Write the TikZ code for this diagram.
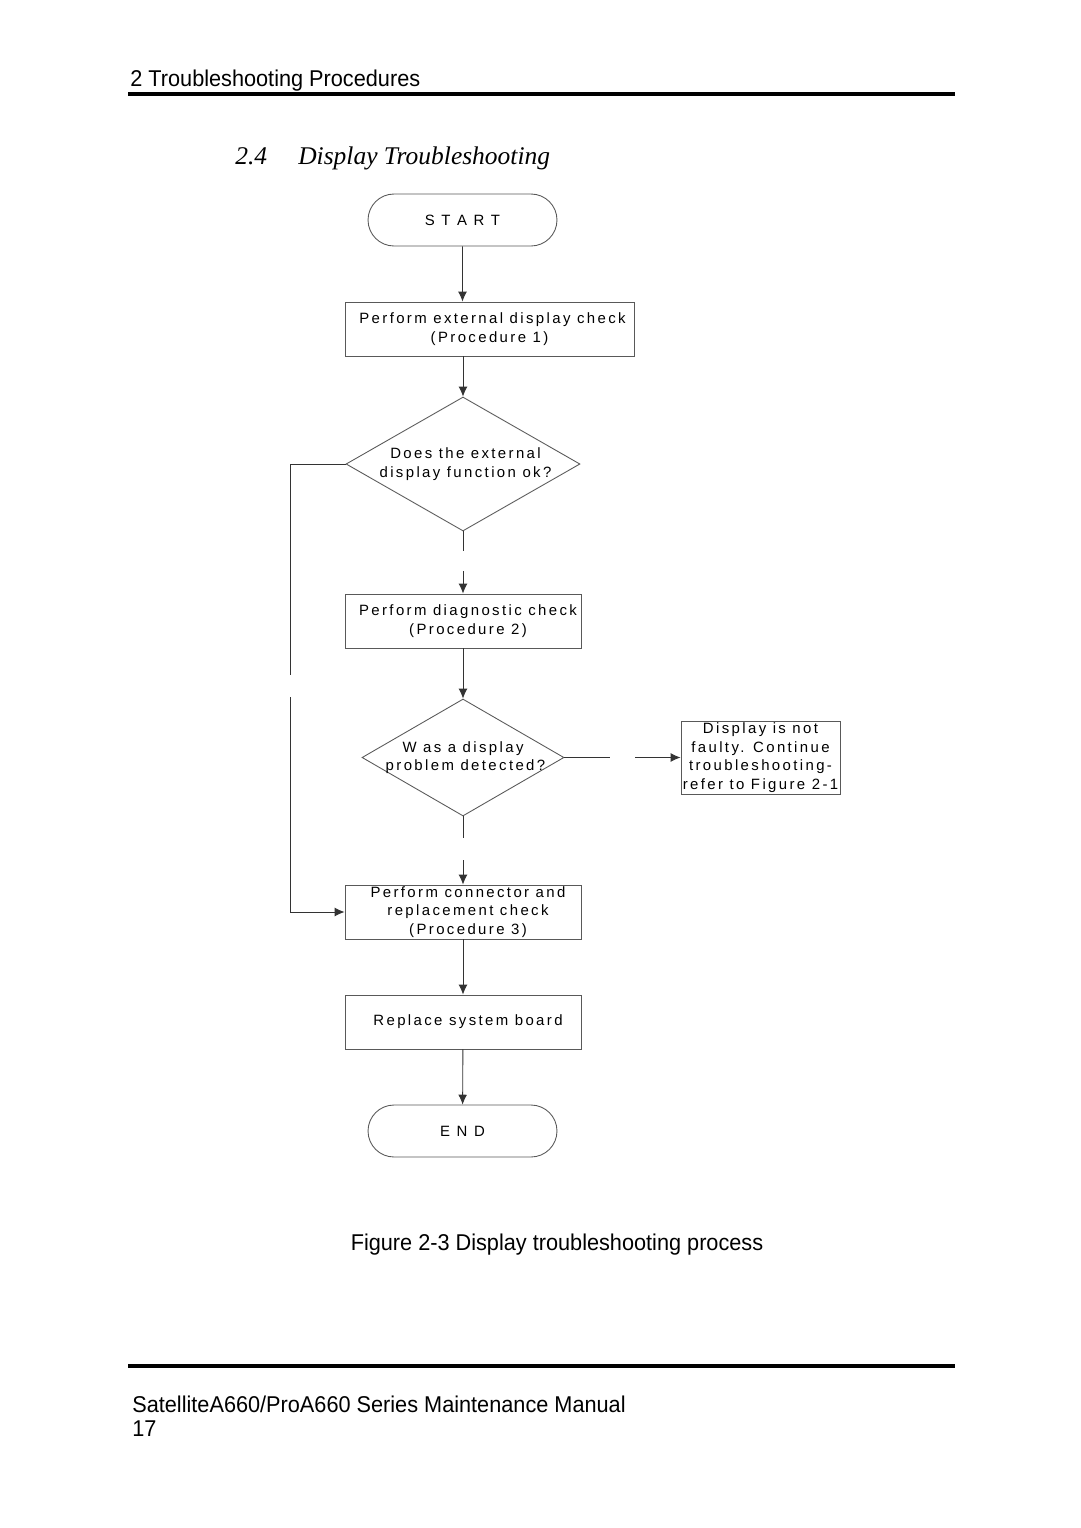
\documentclass[tikz,border=0pt]{standalone}
\usepackage{fontspec}
\setmainfont{Liberation Sans}
\newfontfamily\headfont[FakeStretch=0.95]{Liberation Sans}
\newfontfamily\titlefont{Liberation Serif}
\newfontfamily\boxfont[LetterSpace=16]{Liberation Sans}
\usetikzlibrary{shapes.geometric,shapes.misc,arrows.meta}
\begin{document}
\begin{tikzpicture}[x=0.02cm,y=-0.02cm,
    every node/.style={inner sep=0pt},
    flowtext/.style={font=\boxfont\fontsize{8.5}{10.6}\selectfont,align=center},
    procbox/.style={flowtext,draw=black!65,line width=0.5pt,rectangle,minimum height=1.08cm},
    termbox/.style={flowtext,draw=black!65,line width=0.5pt,rounded rectangle,minimum width=3.78cm,minimum height=1.04cm},
    askbox/.style={flowtext,draw=black!65,line width=0.5pt,diamond,aspect=1.75,inner sep=-8pt},
    link/.style={line width=0.5pt,black!80,-{Latex[length=5.6pt,width=5pt]}},
    linkend/.style={line width=0.5pt,black!80}]
  \useasboundingbox (0,0) rectangle (1080,1528);
  % page head
  \node[anchor=base west,font=\headfont\fontsize{13}{15}\selectfont] (head) at (130,86) {2 Troubleshooting Procedures};
  \draw[line width=2.3pt] (128,94) -- (955,94);
  \node[anchor=base west,font=\titlefont\itshape\fontsize{14.5}{17}\selectfont] (secnum) at (235,164) {2.4};
  \node[anchor=base west,font=\titlefont\itshape\fontsize{14.5}{17}\selectfont] (sectitle) at (298,164) {Display Troubleshooting};
  % flow chart
  \node[termbox] (start) at (462.5,220) {S T A R T};
  \node[procbox,minimum width=5.78cm] (ext) at (489.5,329) {\hspace*{0.12cm}Perform external display check\\(Procedure 1)};
  \node[askbox,minimum width=4.68cm,minimum height=2.68cm] (extok) at (463,464) {\hspace*{0.1cm}Does the external\\\hspace*{0.1cm}display function ok?};
  \node[procbox,minimum width=4.72cm] (diag) at (463,621) {\hspace*{0.2cm}Perform diagnostic check\\\hspace*{0.2cm}(Procedure 2)};
  \node[askbox,minimum width=4.04cm,minimum height=2.34cm] (found) at (463,757.5) {W as a display\\\hspace*{0.1cm}problem detected?};
  \node[procbox,minimum width=3.18cm,minimum height=1.46cm] (notfaulty) at (760.5,757.5) {Display is not\\faulty. Continue\\troubleshooting-\\refer to Figure 2-1};
  \node[procbox,minimum width=4.72cm] (conn) at (463,912) {\hspace*{0.2cm}Perform connector and\\\hspace*{0.2cm}replacement check\\\hspace*{0.2cm}(Procedure 3)};
  \node[procbox,minimum width=4.72cm] (board) at (463,1022) {\hspace*{0.2cm}Replace system board};
  \node[termbox] (end) at (462.5,1131) {E N D};
  % broken line ends
  \coordinate (ga) at (463,551);  \coordinate (gb) at (463,571);
  \coordinate (gc) at (463,838);  \coordinate (gd) at (463,860);
  \coordinate (la) at (290,675);  \coordinate (lb) at (290,697);
  \coordinate (ra) at (610,757.5);  \coordinate (rb) at (635,757.5);
  \draw[link] (start) -- (start |- ext.north);
  \draw[link] (extok |- ext.south) -- (extok.north);
  \draw[linkend] (extok.south) -- (ga);
  \draw[link] (gb) -- (diag.north);
  \draw[link] (diag) -- (found.north);
  \draw[linkend] (found.south) -- (gc);
  \draw[link] (gd) -- (conn.north);
  \draw[linkend] (found.east) -- (ra);
  \draw[link] (rb) -- (notfaulty.west);
  \draw[linkend] (extok.west) -| (la);
  \draw[link] (lb) |- (conn.west);
  \draw[link] (conn) -- (board);
  \draw[link] (board) -- (end);
  % caption and foot
  \node[anchor=base,font=\headfont\fontsize{13}{15}\selectfont] (caption) at (557,1250) {Figure 2-3 Display troubleshooting process};
  \draw[line width=2.3pt] (128,1366) -- (955,1366);
  \node[anchor=base west,font=\headfont\fontsize{13}{15}\selectfont] (manual) at (132,1412) {SatelliteA660/ProA660 Series Maintenance Manual};
  \node[anchor=base west,font=\headfont\fontsize{13}{15}\selectfont] (page) at (132,1436) {17};
\end{tikzpicture}
\end{document}
